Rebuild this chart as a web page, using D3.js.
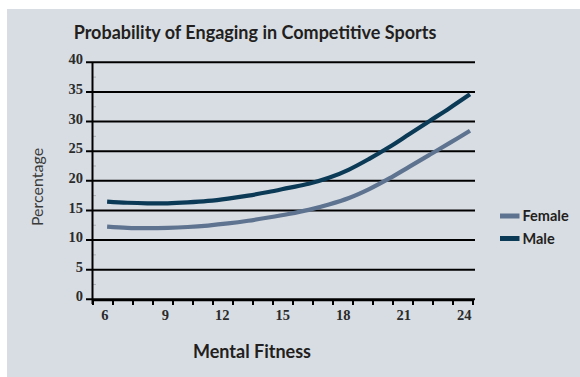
<!DOCTYPE html>
<html>
<head>
<meta charset="utf-8">
<script src="https://cdn.jsdelivr.net/npm/d3@7"></script>
<style>
  html, body { margin: 0; padding: 0; background: #ffffff; }
  svg { display: block; }
</style>
</head>
<body>
<svg id="chart" width="580" height="377"></svg>
<script>
// Mental fitness score (x) and probability (%) of engaging in competitive sports
const fitness = [6, 7, 8, 9, 10, 11, 12, 13, 14, 15, 16, 17, 18, 19, 20, 21, 22, 23, 24];
const male   = [16.5, 16.3, 16.2, 16.2, 16.35, 16.6, 17.0, 17.5, 18.1, 18.8, 19.5, 20.5, 21.9, 23.7, 25.7, 27.9, 30.1, 32.3, 34.6];
const female = [12.25, 12.05, 12.0, 12.05, 12.2, 12.45, 12.8, 13.25, 13.8, 14.4, 15.1, 16.0, 17.1, 18.6, 20.4, 22.4, 24.4, 26.4, 28.45];
const xTickLabels = [6, 9, 12, 15, 18, 21, 24];
const yTickValues = [0, 5, 10, 15, 20, 25, 30, 35, 40];
const seriesNames = ["Female", "Male"];
const seriesColors = ["#5d7390", "#0b3a57"];

const svg = d3.select("#chart");

// grey panel behind everything
svg.append("rect")
  .attr("x", 7).attr("y", 9)
  .attr("width", 573).attr("height", 368)
  .attr("fill", "#d8dde3");

const x = d3.scaleLinear().domain([5.3, 24.15]).range([93, 473]);
const y = d3.scaleLinear().domain([0, 40]).range([299.3, 62.3]);

// title
svg.append("text")
  .attr("x", 255).attr("y", 39)
  .attr("text-anchor", "middle")
  .attr("font-family", "Lato, 'Open Sans', sans-serif")
  .attr("font-weight", "bold")
  .attr("font-size", 18)
  .attr("fill", "#231f20")
  .text("Probability of Engaging in Competitive Sports");

// horizontal gridlines with left tick stubs
const grid = svg.append("g");
grid.selectAll("line")
  .data(yTickValues)
  .join("line")
  .attr("x1", 86).attr("x2", 475)
  .attr("y1", d => y(d)).attr("y2", d => y(d))
  .attr("stroke", "#000").attr("stroke-width", 2);

// faint minor ticks between gridlines
grid.selectAll("line.minor")
  .data(d3.range(2.5, 40, 5))
  .join("line")
  .attr("class", "minor")
  .attr("x1", 93).attr("x2", 96)
  .attr("y1", d => y(d)).attr("y2", d => y(d))
  .attr("stroke", "#aab1ba").attr("stroke-width", 1);

// y tick labels
svg.append("g").selectAll("text")
  .data(yTickValues)
  .join("text")
  .attr("x", 83).attr("y", d => y(d) - 3)
  .attr("dy", "0.35em")
  .attr("text-anchor", "end")
  .attr("font-family", "'Liberation Serif', serif")
  .attr("font-weight", "bold")
  .attr("font-size", 14.5)
  .attr("fill", "#2b2b2b")
  .text(d => d);

// y axis line
svg.append("line")
  .attr("x1", 92.5).attr("x2", 92.5)
  .attr("y1", y(40)).attr("y2", 304)
  .attr("stroke", "#000").attr("stroke-width", 2);

// x axis line and tick marks at category boundaries
const [d0, d1] = x.domain();
const xTicks = d3.range(20).map(i => d0 + i * (d1 - d0) / 19);
svg.append("line")
  .attr("x1", 92).attr("x2", 474)
  .attr("y1", 300.3).attr("y2", 300.3)
  .attr("stroke", "#000").attr("stroke-width", 2);
svg.append("g").selectAll("line")
  .data(xTicks)
  .join("line")
  .attr("x1", d => x(d)).attr("x2", d => x(d))
  .attr("y1", 300).attr("y2", 305)
  .attr("stroke", "#000").attr("stroke-width", 2);

// x tick labels
svg.append("g").selectAll("text")
  .data(xTickLabels)
  .join("text")
  .attr("x", d => x(d) + 1.5).attr("y", 320)
  .attr("text-anchor", "end")
  .attr("font-family", "'Liberation Serif', serif")
  .attr("font-weight", "bold")
  .attr("font-size", 14.5)
  .attr("fill", "#2b2b2b")
  .text(d => d);

// axis titles
svg.append("text")
  .attr("x", 252).attr("y", 358)
  .attr("text-anchor", "middle")
  .attr("font-family", "Lato, 'Open Sans', sans-serif")
  .attr("font-weight", "bold")
  .attr("font-size", 18)
  .attr("fill", "#231f20")
  .text("Mental Fitness");

svg.append("text")
  .attr("transform", "translate(43,187) rotate(-90)")
  .attr("text-anchor", "middle")
  .attr("font-family", "Lato, 'Open Sans', sans-serif")
  .attr("font-size", 16)
  .attr("fill", "#3a3a3a")
  .text("Percentage");

// smooth curves through the series values
const line = d3.line()
  .x((d, i) => x(fitness[i]))
  .y(d => y(d))
  .curve(d3.curveCatmullRom.alpha(0.5));

const series = [female, male];
svg.append("g").selectAll("path")
  .data(series)
  .join("path")
  .attr("d", d => line(d))
  .attr("fill", "none")
  .attr("stroke", (d, i) => seriesColors[i])
  .attr("stroke-width", 4.2);

// legend
const legend = svg.append("g");
seriesNames.forEach((name, i) => {
  const ly = 216 + i * 22.5;
  legend.append("line")
    .attr("x1", 500).attr("x2", 519.5)
    .attr("y1", ly).attr("y2", ly)
    .attr("stroke", seriesColors[i]).attr("stroke-width", 5);
  legend.append("text")
    .attr("x", 522.5).attr("y", ly)
    .attr("dy", "0.36em")
    .attr("font-family", "Lato, 'Open Sans', sans-serif")
    .attr("font-weight", "bold")
    .attr("font-size", 14.5)
    .attr("fill", "#231f20")
    .text(name);
});
</script>
</body>
</html>
